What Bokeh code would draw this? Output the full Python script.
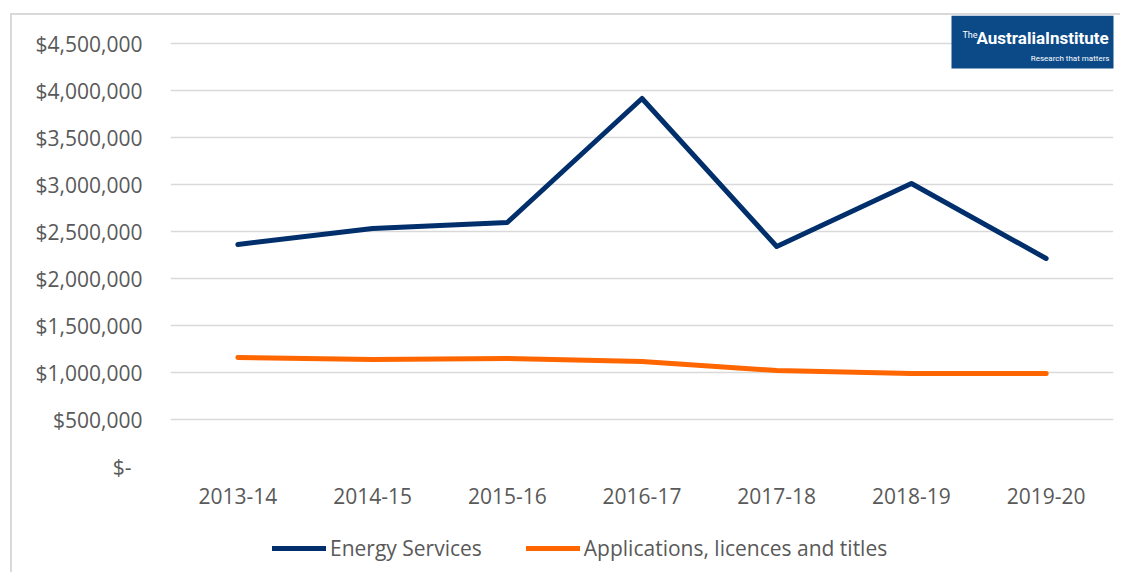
from bokeh.plotting import figure
from bokeh.layouts import column
from bokeh.models import (FactorRange, FixedTicker, Legend, LegendItem, Label,
                          BoxAnnotation, ColumnDataSource, Range1d)
from bokeh.embed import file_html
from bokeh.resources import INLINE

years = ["2013-14", "2014-15", "2015-16", "2016-17", "2017-18", "2018-19", "2019-20"]
energy_services = [2362000, 2532000, 2596000, 3915000, 2340000, 3011000, 2213000]
applications = [1160000, 1138000, 1149000, 1117000, 1021000, 989000, 989000]
series_names = ["Energy Services", "Applications, licences and titles"]
y_ticks = [0, 500000, 1000000, 1500000, 2000000, 2500000, 3000000, 3500000, 4000000, 4500000]
y_tick_labels = ["$-\u00a0\u00a0", "$500,000", "$1,000,000", "$1,500,000", "$2,000,000",
                 "$2,500,000", "$3,000,000", "$3,500,000", "$4,000,000", "$4,500,000"]

FONT = "Open Sans"
FS = "21px"
GREY = "#595959"
NAVY = "#002F6C"
ORANGE = "#FF6600"

# frame spans 451 px; top gridline (4.5M) sits 28 px below frame top (room for logo)
y_top = 4500000 * 451 / 423

p = figure(width=1108, height=505, x_range=FactorRange(factors=years, range_padding=0),
           y_range=(0, y_top), output_backend="svg", toolbar_location=None,
           min_border_left=158, min_border_right=7, min_border_top=0, min_border_bottom=54)
p.outline_line_color = None
p.background_fill_color = "white"
p.border_fill_color = "white"

src = ColumnDataSource(dict(year=years, es=energy_services, app=applications))
r1 = p.line("year", "es", source=src, line_color=NAVY, line_width=5, line_cap="round", line_join="round")
r2 = p.line("year", "app", source=src, line_color=ORANGE, line_width=5, line_cap="round", line_join="round")

p.yaxis.ticker = FixedTicker(ticks=y_ticks)
p.yaxis.major_label_overrides = {t: l for t, l in zip(y_ticks, y_tick_labels)}
for ax in (p.xaxis[0], p.yaxis[0]):
    ax.axis_line_color = None
    ax.major_tick_line_color = None
    ax.minor_tick_line_color = None
    ax.major_label_text_font = FONT
    ax.major_label_text_font_size = FS
    ax.major_label_text_color = GREY
p.yaxis.major_label_standoff = 22
p.xaxis.major_label_standoff = 15
p.xgrid.grid_line_color = None
p.ygrid.grid_line_color = "#d9d9d9"
p.ygrid.grid_line_width = 1.5

# logo
p.add_layout(BoxAnnotation(left=939, right=1108, top=0, bottom=53,
                           left_units="canvas", right_units="canvas",
                           top_units="canvas", bottom_units="canvas",
                           fill_color="#0B4A87", fill_alpha=1, line_color=None))
p.add_layout(Label(x=950, y=14, x_units="canvas", y_units="canvas", text="The",
                   text_color="white", text_font="Roboto", text_font_size="9px",
                   text_baseline="top"))
p.add_layout(Label(x=964, y=12, x_units="canvas", y_units="canvas", text="AustraliaInstitute",
                   text_color="white", text_font="Roboto", text_font_size="17px",
                   text_font_style="bold", text_baseline="top"))
p.add_layout(Label(x=1097, y=38, x_units="canvas", y_units="canvas", text="Research that matters",
                   text_color="white", text_font="Roboto", text_font_size="8px",
                   text_baseline="top", text_align="right"))

# legend strip (its frame is aligned with the main frame by the column layout)
pl = figure(width=1108, height=52, x_range=FactorRange(factors=years, range_padding=0),
            y_range=Range1d(-2, -1), output_backend="svg",
            toolbar_location=None, min_border_left=158, min_border_right=7,
            min_border_top=0, min_border_bottom=0)
pl.axis.visible = False
pl.grid.visible = False
pl.outline_line_color = None
pl.background_fill_color = "white"
pl.border_fill_color = "white"
l1 = pl.line("year", "es", source=src, line_color=NAVY, line_width=5, line_cap="round")
l2 = pl.line("year", "app", source=src, line_color=ORANGE, line_width=5, line_cap="round")
legend = Legend(items=[LegendItem(label=series_names[0], renderers=[l1]),
                       LegendItem(label=series_names[1], renderers=[l2])],
                orientation="horizontal", location=(102, 10), padding=0, margin=0,
                spacing=44, glyph_width=54, glyph_height=20, label_height=20,
                label_standoff=4, border_line_color=None, background_fill_alpha=0,
                label_text_font=FONT, label_text_font_size=FS, label_text_color=GREY)
pl.add_layout(legend, "center")

layout = column(p, pl, spacing=0,
                styles={"margin-left": "10px", "margin-top": "13px",
                        "border-left": "2px solid #d9d9d9", "border-top": "2px solid #d9d9d9"})

open("out.html", "w").write(file_html(layout, INLINE))
